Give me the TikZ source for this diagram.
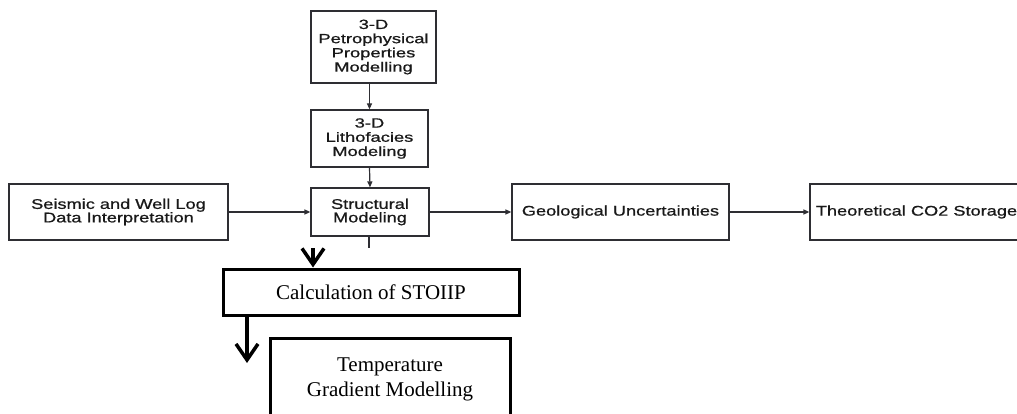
\documentclass[tikz,border=0pt]{standalone}
\usepackage{fontspec}
\usetikzlibrary{arrows.meta}
\setmainfont{Liberation Serif}
\newfontfamily\arialx[FakeStretch=1.3,FakeBold=0.8]{Liberation Sans}
\newfontfamily\arialp[FakeStretch=1.38,FakeBold=0.8]{Liberation Sans}
\definecolor{boxline}{HTML}{2E2E33}
\begin{document}
\begin{tikzpicture}[x=1pt,y=-1pt,
  thinbox/.style={draw=boxline, line width=1.2pt, fill=white, inner sep=0pt, align=center,
     font=\arialx\fontsize{14}{13.5}\selectfont, text=black!90},
  pbox/.style={thinbox, font=\arialp\fontsize{13.3}{14.2}\selectfont},
  thickbox/.style={draw=black, line width=3pt, fill=white, inner sep=0pt, align=center,
     font=\fontsize{21}{25}\selectfont},
  thinarrow/.style={draw=boxline, line width=1.2pt, -{Triangle[length=6pt,width=5pt]}},
  thickarrow/.style={draw=black, line width=3.5pt, -{Straight Barb[length=16pt,width=22pt,line width=3.5pt]}}
]
\useasboundingbox (0,0) rectangle (1017,414);
\clip (0,0) rectangle (1017,414);

\node[pbox, minimum width=125, minimum height=72] (petro) at (373.5,47) {3-D\\Petrophysical\\Properties\\Modelling};
\node[pbox, minimum width=117, minimum height=57] (litho) at (369.5,138.5) {3-D\\Lithofacies\\Modeling};
\node[thinbox, minimum width=118, minimum height=48] (struct) at (370,212) {Structural\\Modeling};
\node[thinbox, minimum width=219, minimum height=56] (seis) at (118.5,212) {Seismic and Well Log\\Data Interpretation};
\node[thinbox, minimum width=217, minimum height=56] (geo) at (620.5,212) {Geological Uncertainties};
\node[thinbox, minimum width=213, minimum height=56] (theo) at (916.5,212) {Theoretical CO2 Storage};

\node[thickbox, minimum width=296, minimum height=46] (calc) at (371,292) {Calculation of STOIIP};
\node[thickbox, minimum width=240, minimum height=82] (temp) at (390,379) {Temperature\\Gradient Modelling};

\draw[thinarrow] (litho.north |- petro.south) -- (litho.north);
\draw[thinarrow] (litho.south) -- (struct.north);
\draw[thinarrow] (seis.east) -- (struct.west);
\draw[thinarrow] (struct.east) -- (geo.west);
\draw[thinarrow] (geo.east) -- (theo.west);
\coordinate (stub) at (369,248);
\draw[draw=boxline, line width=1.2pt] (struct.south -| stub) -- (stub);

\coordinate (a1) at (313,248);
\draw[thickarrow] (a1) -- (a1 |- calc.north);
\coordinate (a2) at (247,363);
\draw[thickarrow] (calc.south -| a2) -- (a2);
\end{tikzpicture}
\end{document}
